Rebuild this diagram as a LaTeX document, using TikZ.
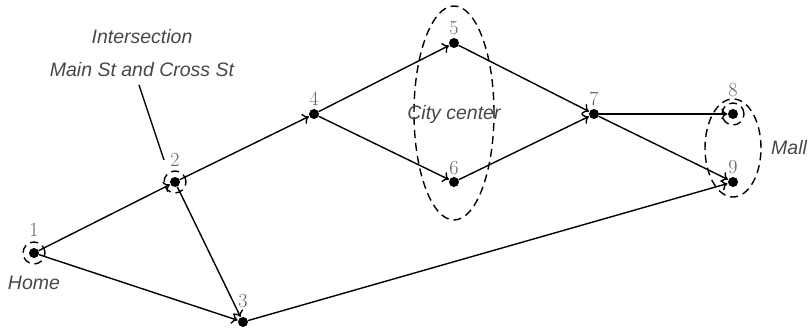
\documentclass[tikz,border=0pt]{standalone}
\usepackage{fontspec}
\setsansfont{Liberation Sans}
\usetikzlibrary{shapes.geometric,arrows.meta}
\newcommand{\numf}[1]{\fontsize{20}{24}\selectfont #1}
\begin{document}
\begin{tikzpicture}[x=1pt,y=-1pt,
  vtx/.style={circle,fill=black,inner sep=0pt,minimum size=10pt},
  lbl/.style={text=black!62,inner sep=0pt,anchor=base},
  note/.style={text=black!72,inner sep=0pt,font=\sffamily\itshape\fontsize{19.5}{33}\selectfont},
  edge/.style={-{To[length=6pt,width=11pt]},line width=1.4pt,shorten >=0.5pt},
  grp/.style={draw,line width=1.4pt,dash pattern=on 8pt off 5pt}]
\useasboundingbox (0,0) rectangle (809,328);
\node[vtx] (n1) at (34,253) {};
\node[vtx] (n2) at (175,182) {};
\node[vtx] (n3) at (243,322) {};
\node[vtx] (n4) at (314,114) {};
\node[vtx] (n5) at (454,43) {};
\node[vtx] (n6) at (454,182) {};
\node[vtx] (n7) at (594,114) {};
\node[vtx] (n8) at (733,114) {};
\node[vtx] (n9) at (733,182) {};
% vertex numbers
\node[lbl] (l1) at (34,237) {\numf{1}};
\node[lbl] (l2) at (175,167) {\numf{2}};
\node[lbl] (l3) at (243,308) {\numf{3}};
\node[lbl] (l4) at (314,106) {\numf{4}};
\node[lbl] (l5) at (454,35) {\numf{5}};
\node[lbl] (l6) at (454,175) {\numf{6}};
\node[lbl] (l7) at (594,106) {\numf{7}};
\node[lbl] (l8) at (733,97) {\numf{8}};
\node[lbl] (l9) at (733,174) {\numf{9}};
% group marks
\node[grp,circle,minimum size=22pt,inner sep=0pt] (c1) at (n1) {};
\node[grp,circle,minimum size=22pt,inner sep=0pt] (c2) at (n2) {};
\node[grp,circle,minimum size=22pt,inner sep=0pt] (c8) at (n8) {};
\node[grp,ellipse,minimum width=80pt,minimum height=214pt,inner sep=0pt] (city) at (454,113) {};
\node[grp,ellipse,minimum width=56pt,minimum height=98pt,inner sep=0pt] (mall) at (733,148) {};
% notes
\node[note] (home) at (34,283) {Home};
\node[note,align=center] (inter) at (142,53) {Intersection\\Main St and Cross St};
\node[note] (citylbl) at (454,114) {City center};
\node[note,anchor=west] (malllbl) at (771,148) {Mall};
\coordinate (p2) at (164,160);
\draw[line width=1.4pt] (139,85) -- (p2);
% edges
\draw[edge] (n1) -- (n2);
\draw[edge] (n1) -- (n3);
\draw[edge] (n2) -- (n3);
\draw[edge] (n2) -- (n4);
\draw[edge] (n4) -- (n5);
\draw[edge] (n4) -- (n6);
\draw[edge] (n5) -- (n7);
\draw[edge] (n6) -- (n7);
\draw[edge] (n7) -- (n8);
\draw[edge] (n7) -- (n9);
\draw[edge] (n3) -- (n9);
\end{tikzpicture}
\end{document}
